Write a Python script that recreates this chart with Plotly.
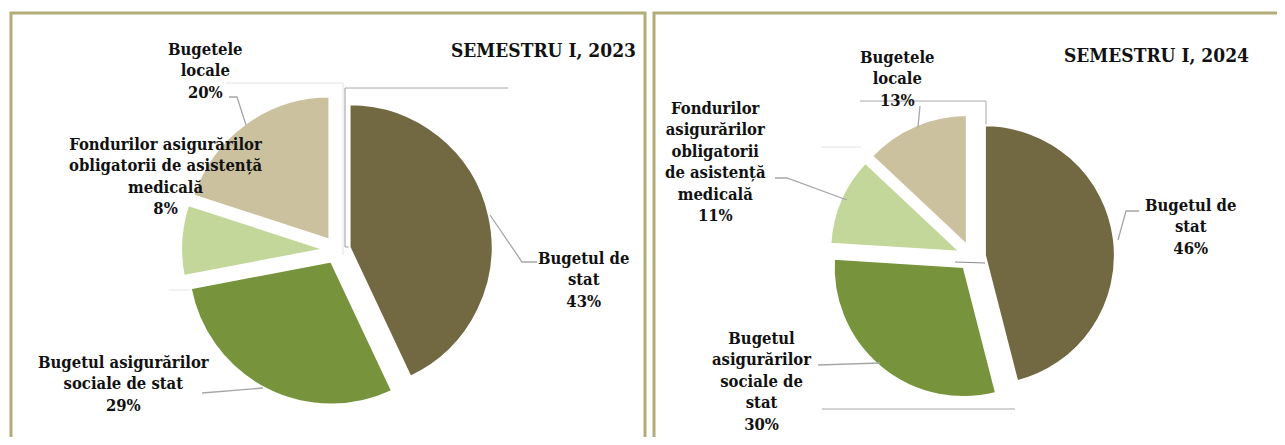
import plotly.graph_objects as go

# page body has an 8px margin: draw in a figure offset by it
OFF = 8
W, H = 1285 - 2 * OFF, 445 - 2 * OFF

# ---- data ----
categories = ["Bugetul de stat", "Bugetul asigurărilor sociale de stat",
              "Fondurilor asigurărilor obligatorii de asistență medicală", "Bugetele locale"]
values_2023 = [43, 29, 8, 20]
values_2024 = [46, 30, 11, 13]
titles = ["SEMESTRU I, 2023", "SEMESTRU I, 2024"]
# label texts with line breaks as in the picture
labels_2023 = ["Bugetul de<br>stat", "Bugetul asigurărilor<br>sociale de stat",
               "Fondurilor asigurărilor<br>obligatorii de asistență<br>medicală", "Bugetele<br>locale"]
labels_2024 = ["Bugetul de<br>stat", "Bugetul<br>asigurărilor<br>sociale de<br>stat",
               "Fondurilor<br>asigurărilor<br>obligatorii<br>de asistență<br>medicală", "Bugetele<br>locale"]
colors = ["#726842", "#77933c", "#c3d79b", "#cbc19f"]

FONT = "DejaVu Serif Condensed, DejaVu Serif, Liberation Serif, serif"


def px(x):
    return (x - OFF) / W


def py(y):
    return 1 - (y - OFF) / H


def domain(cx, cy, r, pull):
    h = r * (1 + pull)
    return dict(x=[px(cx - h), px(cx + h)], y=[py(cy + h), py(cy - h)])


fig = go.Figure()

pies = [
    dict(vals=values_2023, cx=337, cy=250, r=143, pull=0.09),
    dict(vals=values_2024, cx=972, cy=257, r=130, pull=0.10),
]
for p in pies:
    fig.add_trace(go.Pie(
        labels=categories, values=p["vals"], sort=False, direction="clockwise", rotation=0,
        marker=dict(colors=colors, line=dict(color="white", width=2)),
        pull=[p["pull"]] * 4, textinfo="none", hoverinfo="label+percent",
        domain=domain(p["cx"], p["cy"], p["r"], p["pull"]), showlegend=False,
    ))

shapes = []
# panel borders
border = "#b3ab78"
shapes.append(dict(type="path", path=f"M {px(11)},{py(460)} L {px(11)},{py(13)} L {px(645)},{py(13)} L {px(645)},{py(460)}",
                   xref="paper", yref="paper", line=dict(color=border, width=3)))
shapes.append(dict(type="path", path=f"M {px(654)},{py(460)} L {px(654)},{py(13)} L {px(1300)},{py(13)}",
                   xref="paper", yref="paper", line=dict(color=border, width=3)))


def poly(pts, color="#a6a6a6", width=1.3, layer="above"):
    d = "M " + " L ".join(f"{px(x)},{py(y)}" for x, y in pts)
    shapes.append(dict(type="path", path=d, xref="paper", yref="paper",
                       line=dict(color=color, width=width), layer=layer))


# faint frame artifacts behind pies
poly([(345, 88), (508, 88)], "#a8a8a8", 1, "below")
poly([(345, 88), (345, 247), (352, 247)], "#9a9a9a", 1, "below")
poly([(226, 83), (343, 83), (343, 255)], "#e2e2e2", 1, "below")
poly([(169, 290), (193, 290)], "#e6e6e6", 1, "below")
poly([(860, 101), (986, 101), (986, 127)], "#a8a8a8", 1, "below")
poly([(821, 147), (861, 147)], "#e2e2e2", 1, "below")
poly([(822, 409), (1015, 409)], "#a8a8a8", 1, "below")
poly([(955, 262), (985, 263)], "#8a8a8a", 1, "above")

# leader lines
poly([(229, 97), (237, 97), (246, 125)])
poly([(490, 215), (522, 262), (537, 262)])
poly([(202, 393), (263, 388)])
poly([(920, 106), (918, 127)])
poly([(775, 178), (787, 178), (847, 200)])
poly([(1139, 211), (1126, 211), (1118, 240)])
poly([(818, 365), (880, 363)])

annotations = []


def txt(text, x, y, size=16.5, xanchor="center"):
    annotations.append(dict(text=text, x=px(x), y=py(y), xref="paper", yref="paper",
                            xanchor=xanchor, yanchor="middle", showarrow=False, align="center",
                            font=dict(family=FONT, size=size, color="#111111", weight="bold")))


txt(titles[0], 638, 50, 19, "right")
txt(titles[1], 1251, 55, 19, "right")

pos_2023 = [(583, 280), (124, 384), (165, 176), (205, 71)]
pos_2024 = [(1190, 227), (761, 381), (715, 162), (897, 79)]
for labs, vals, pos in [(labels_2023, values_2023, pos_2023), (labels_2024, values_2024, pos_2024)]:
    tot = sum(vals)
    for lab, v, (x, y) in zip(labs, vals, pos):
        txt(f"{lab}<br>{round(100 * v / tot)}%", x, y)

fig.update_layout(width=W, height=H, margin=dict(l=0, r=0, t=0, b=0),
                  paper_bgcolor="white", plot_bgcolor="white",
                  shapes=shapes, annotations=annotations)
fig.write_html("out.html")
